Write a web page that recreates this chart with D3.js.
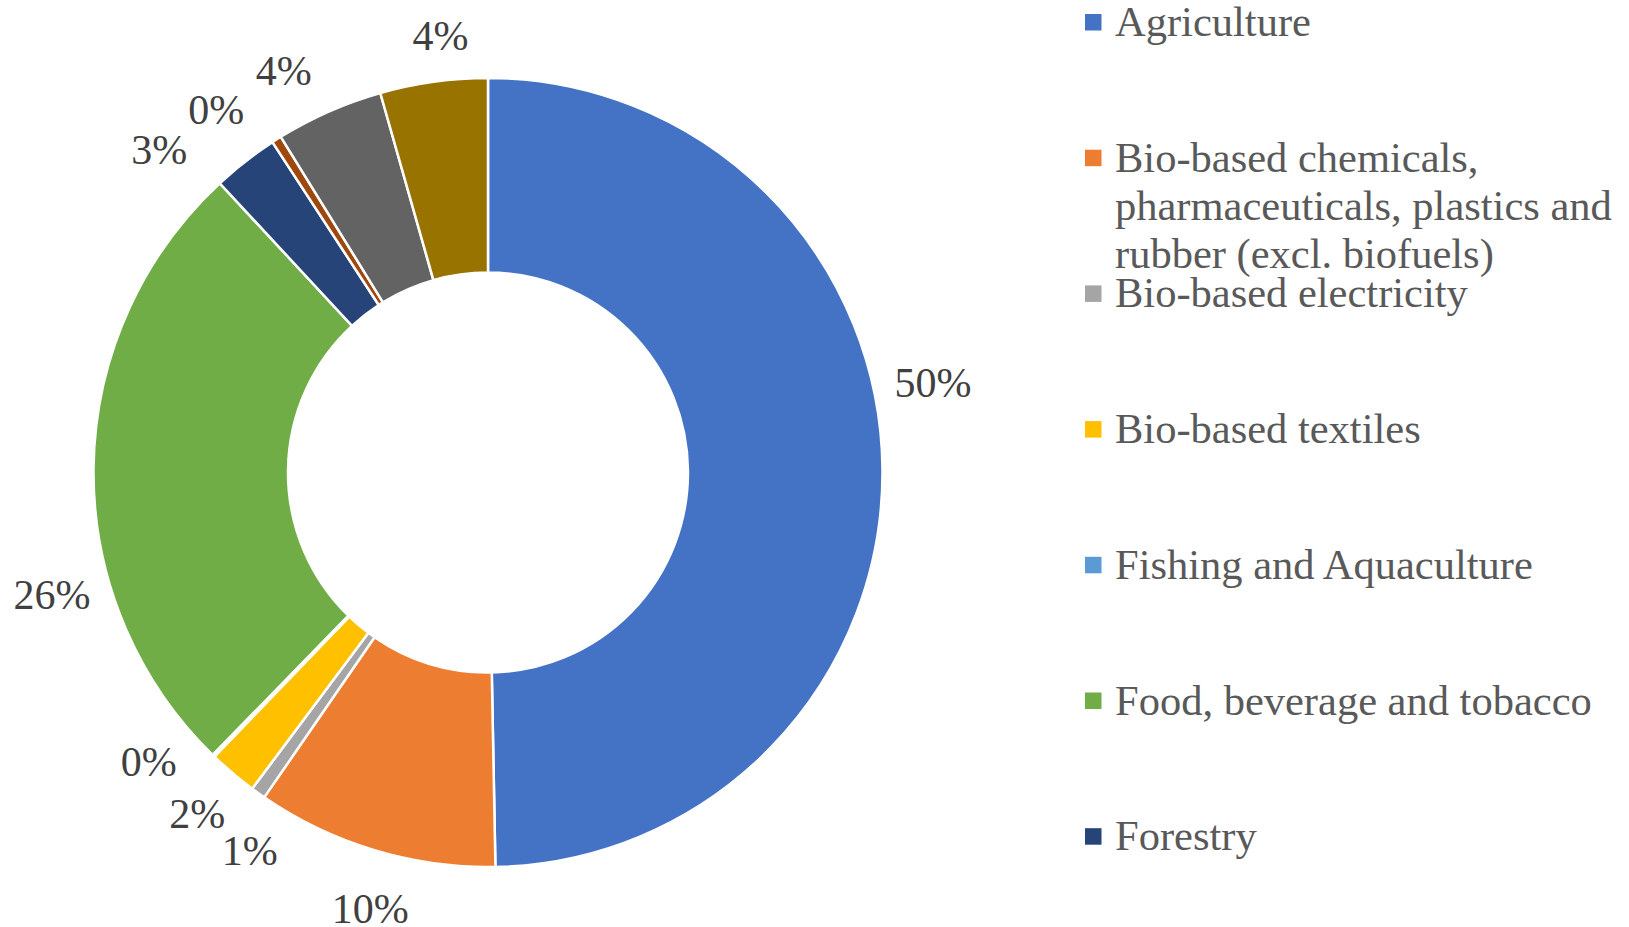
<!DOCTYPE html>
<html>
<head>
<meta charset="utf-8">
<script src="https://cdn.jsdelivr.net/npm/d3@7/dist/d3.min.js"></script>
<style>
  html, body { margin: 0; padding: 0; background: #fff; }
  svg { display: block; font-family: "Liberation Serif", "Times New Roman", serif; }
</style>
</head>
<body>
<svg id="chart" width="1629" height="927"></svg>
<script>
// Bioeconomy sectors, share of total (%)
const sectors = [
  "Agriculture",
  "Bio-based chemicals, pharmaceuticals, plastics and rubber (excl. biofuels)",
  "Bio-based electricity",
  "Bio-based textiles",
  "Fishing and Aquaculture",
  "Food, beverage and tobacco",
  "Forestry",
  "Liquid biofuels",
  "Manufacture of paper and paper products",
  "Manufacture of wood products and furniture"
];
const shares = [49.7, 9.9, 0.6, 2.0, 0.1, 25.8, 2.7, 0.4, 4.4, 4.4];
const colors = ["#4472C4", "#ED7D31", "#A5A5A5", "#FFC000", "#5B9BD5",
                "#70AD47", "#264478", "#9E480E", "#636363", "#997300"];

// Legend entries that fit in the panel (wrapped lines per entry)
const legendLines = [
  ["Agriculture"],
  ["Bio-based chemicals,", "pharmaceuticals, plastics and", "rubber (excl. biofuels)"],
  ["Bio-based electricity"],
  ["Bio-based textiles"],
  ["Fishing and Aquaculture"],
  ["Food, beverage and tobacco"],
  ["Forestry"]
];

// Hand-placed nudges for the percentage labels, relative to the slice mid-angle
const labelNudge = [
  [5, -85], [9, 15], [18, 21], [-6, 6], [-33, -26],
  [4, 128], [-58, 24], [-36, 9], [-27, 1], [13, -1]
];

const svg = d3.select("#chart");
const cx = 488, cy = 472.5;
const outerR = 394.5, innerR = 200, labelR = 440;

const pie = d3.pie().sort(null).value(d => d);
const arcs = pie(shares);
const total = d3.sum(shares);

const arc = d3.arc().innerRadius(innerR).outerRadius(outerR);
const g = svg.append("g").attr("transform", `translate(${cx},${cy})`);

g.selectAll("path.slice")
  .data(arcs)
  .join("path")
  .attr("class", "slice")
  .attr("d", arc)
  .attr("fill", (d, i) => colors[i])
  .attr("stroke", "#fff")
  .attr("stroke-width", 2.5)
  .attr("stroke-linejoin", "miter");

g.selectAll("text.pct")
  .data(arcs)
  .join("text")
  .attr("class", "pct")
  .attr("x", (d, i) => labelR * Math.sin((d.startAngle + d.endAngle) / 2) + labelNudge[i][0])
  .attr("y", (d, i) => -labelR * Math.cos((d.startAngle + d.endAngle) / 2) + labelNudge[i][1])
  .attr("dy", "0.33em")
  .attr("text-anchor", "middle")
  .attr("font-size", 42)
  .attr("fill", "#404040")
  .text(d => Math.round(d.value / total * 100) + "%");

// Legend
const legend = svg.append("g").attr("transform", "translate(1085,0)");
const rowY = d3.scaleLinear().domain([0, 1]).range([36, 171.7]);
const item = legend.selectAll("g.item")
  .data(legendLines)
  .join("g")
  .attr("class", "item")
  .attr("transform", (d, i) => `translate(0,${rowY(i)})`);

item.append("rect")
  .attr("x", 0).attr("y", -22)
  .attr("width", 16.5).attr("height", 16.5)
  .attr("fill", (d, i) => colors[i]);

item.append("text")
  .attr("font-size", 42.5)
  .attr("fill", "#595959")
  .selectAll("tspan")
  .data(d => d)
  .join("tspan")
  .attr("x", 30)
  .attr("y", (d, j) => j * 48)
  .text(d => d);
</script>
</body>
</html>
